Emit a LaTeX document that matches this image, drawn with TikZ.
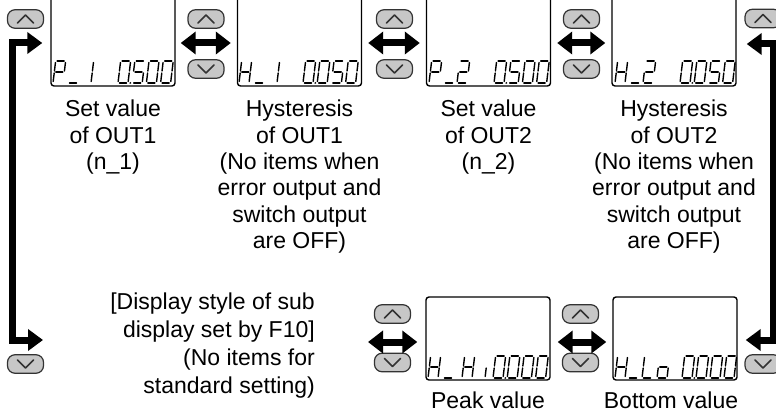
\documentclass[tikz,border=0pt]{standalone}
\usepackage{fontspec}
\setmainfont{Liberation Sans}
\usetikzlibrary{arrows.meta,calc}

\tikzset{
 lcdbox/.style={draw=black, line width=1.4pt, rounded corners=3pt, minimum width=124pt, inner sep=0pt},
 keybtn/.style={draw=black!80, fill=black!22, line width=1.2pt, rounded corners=7.5pt, minimum width=36pt, minimum height=18.5pt, inner sep=0pt},
 chev/.style={draw=black!80, line width=1.5pt, line cap=round, line join=round},
 bigarrow/.style={line width=7pt, {Triangle[length=15pt,width=22pt]}-{Triangle[length=15pt,width=22pt]}},
 bracket/.style={line width=7pt, line join=miter, {Triangle[length=15pt,width=21pt]}-{Triangle[length=15pt,width=21pt]}},
 lbl/.style={font=\fontsize{23}{26.3}\selectfont, align=center, inner sep=0pt, anchor=north},
 lcd/.style={line width=1.4pt, line cap=round},
}

\newcommand\lcdsega{\draw[lcd] (1.5,-22)--(8.5,-22);}
\newcommand\lcdsegb{\draw[lcd] (10,-20.5)--(10,-12);}
\newcommand\lcdsegc{\draw[lcd] (10,-10)--(10,-1.5);}
\newcommand\lcdsegd{\draw[lcd] (1.5,0)--(8.5,0);}
\newcommand\lcdsege{\draw[lcd] (0,-10)--(0,-1.5);}
\newcommand\lcdsegf{\draw[lcd] (0,-20.5)--(0,-12);}
\newcommand\lcdsegg{\draw[lcd] (1.5,-11)--(8.5,-11);}
\newcommand\lcdsegp{\fill (12.3,0) circle (1.0);}
\newcommand\lcdchar[3]{\begin{scope}[shift={(#1,#2)},xslant=0.12]\foreach \s in {#3}{\csname lcdseg\s\endcsname}\end{scope}}
\newcommand\upchev[1]{\draw[chev] ($(#1)+(-8,4)$) -- ($(#1)+(0,-4)$) -- ($(#1)+(8,4)$);}
\newcommand\dnchev[1]{\draw[chev] ($(#1)+(-8,-4)$) -- ($(#1)+(0,4)$) -- ($(#1)+(8,-4)$);}

\begin{document}
\begin{tikzpicture}[x=1pt,y=-1pt]
\useasboundingbox (0,0) rectangle (776,417);
\fill[white] (0,0) rectangle (776,417);
\clip (0,0) rectangle (776,417);

% display boxes
\node[lcdbox, minimum height=92pt] (d1) at (113,40) {};
\node[lcdbox, minimum height=92pt] (d2) at (299.5,40) {};
\node[lcdbox, minimum height=92pt] (d3) at (488.5,40) {};
\node[lcdbox, minimum height=92pt] (d4) at (674,40) {};
\node[lcdbox, minimum height=83pt] (d5) at (488,338.5) {};
\node[lcdbox, minimum height=83pt] (d6) at (675,338.5) {};

% LCD characters: P_1 0.500
\lcdchar{53}{83}{a,b,e,f,g}
\lcdchar{68}{83}{d}
\lcdchar{81}{83}{b,c}
\lcdchar{118}{83}{a,b,c,d,e,f,p}
\lcdchar{132.2}{83}{a,f,g,c,d}
\lcdchar{146.4}{83}{a,b,c,d,e,f}
\lcdchar{160.6}{83}{a,b,c,d,e,f}
% H_1 0.050
\lcdchar{239}{83}{b,c,e,f,g}
\lcdchar{254}{83}{d}
\lcdchar{267}{83}{b,c}
\lcdchar{303}{83}{a,b,c,d,e,f,p}
\lcdchar{317.2}{83}{a,b,c,d,e,f}
\lcdchar{331.4}{83}{a,f,g,c,d}
\lcdchar{345.6}{83}{a,b,c,d,e,f}
% P_2 0.500
\lcdchar{429}{83}{a,b,e,f,g}
\lcdchar{444}{83}{d}
\lcdchar{457}{83}{a,b,g,e,d}
\lcdchar{494}{83}{a,b,c,d,e,f,p}
\lcdchar{508.2}{83}{a,f,g,c,d}
\lcdchar{522.4}{83}{a,b,c,d,e,f}
\lcdchar{536.6}{83}{a,b,c,d,e,f}
% H_2 0.050
\lcdchar{615}{83}{b,c,e,f,g}
\lcdchar{630}{83}{d}
\lcdchar{643}{83}{a,b,g,e,d}
\lcdchar{680}{83}{a,b,c,d,e,f,p}
\lcdchar{694.2}{83}{a,b,c,d,e,f}
\lcdchar{708.4}{83}{a,f,g,c,d}
\lcdchar{722.6}{83}{a,b,c,d,e,f}
% H_Hi 0.000
\lcdchar{428}{378}{b,c,e,f,g}
\lcdchar{443}{378}{d}
\lcdchar{462}{378}{b,c,e,f,g}
\lcdchar{475}{378}{c}
\lcdchar{493}{378}{a,b,c,d,e,f,p}
\lcdchar{507.2}{378}{a,b,c,d,e,f}
\lcdchar{521.4}{378}{a,b,c,d,e,f}
\lcdchar{535.6}{378}{a,b,c,d,e,f}
% H_Lo 0.000
\lcdchar{615}{378}{b,c,e,f,g}
\lcdchar{628}{378}{d}
\lcdchar{642}{378}{f,e,d}
\lcdchar{657}{378}{c,d,e,g}
\lcdchar{682}{378}{a,b,c,d,e,f,p}
\lcdchar{696}{378}{a,b,c,d,e,f}
\lcdchar{710}{378}{a,b,c,d,e,f}
\lcdchar{724}{378}{a,b,c,d,e,f}

% keys
\node[keybtn] (u0) at (25.5,19) {};
\node[keybtn] (u1) at (206,19) {};
\node[keybtn] (n1) at (206,69) {};
\node[keybtn] (u2) at (394.5,19) {};
\node[keybtn] (n2) at (394.5,69) {};
\node[keybtn] (u3) at (581.5,19) {};
\node[keybtn] (n3) at (581.5,69) {};
\node[keybtn] (u4) at (763,18.5) {};
\node[keybtn] (n0) at (25.5,364) {};
\node[keybtn] (u5) at (392.5,314) {};
\node[keybtn] (n5) at (392.5,362.5) {};
\node[keybtn] (u6) at (580.5,314) {};
\node[keybtn] (n6) at (580.5,362.5) {};
\node[keybtn] (n7) at (763,364) {};
\upchev{u0}\upchev{u1}\upchev{u2}\upchev{u3}\upchev{u4}\upchev{u5}\upchev{u6}
\dnchev{n0}\dnchev{n1}\dnchev{n2}\dnchev{n3}\dnchev{n5}\dnchev{n6}\dnchev{n7}

% arrows
\draw[bigarrow] ([xshift=5pt,yshift=-3pt]d1.east) -- ([xshift=-6pt,yshift=-3pt]d2.west);
\draw[bigarrow] ([xshift=6pt,yshift=-3pt]d2.east) -- ([xshift=-6pt,yshift=-3pt]d3.west);
\draw[bigarrow] ([xshift=6pt,yshift=-3pt]d3.east) -- ([xshift=-6pt,yshift=-3pt]d4.west);
\coordinate (la) at (368,342);
\draw[bigarrow] (la) -- ([xshift=-8pt,yshift=-3.5pt]d5.west);
\draw[bigarrow] ([xshift=7pt,yshift=-3.5pt]d5.east) -- ([xshift=-6pt,yshift=-3.5pt]d6.west);
\coordinate (lb) at (43,340);
\draw[bracket] ([xshift=-8pt,yshift=-3pt]d1.west) -- ++(-30,0) |- (lb);
\draw[bracket] ([xshift=10pt,yshift=-4pt]d4.east) -- ++(26.5,0) |- ([xshift=8pt,yshift=-1.5pt]d6.east);

% labels
\node[lbl] (t1) at (113,100) {Set value\\of OUT1\\(n\_1)};
\node[lbl] (t2) at (299.5,100) {Hysteresis\\of OUT1\\(No items when\\error output and\\switch output\\are OFF)};
\node[lbl] (t3) at (488.5,100) {Set value\\of OUT2\\(n\_2)};
\node[lbl] (t4) at (674,100) {Hysteresis\\of OUT2\\(No items when\\error output and\\switch output\\are OFF)};
\node[lbl, align=right, anchor=north east, font=\fontsize{23}{28}\selectfont] (t5) at (315,293) {[Display style of sub\\display set by F10]\\(No items for\\standard setting)};
\node[lbl] (t6) at (488,392) {Peak value};
\node[lbl] (t7) at (671,392) {Bottom value};
\end{tikzpicture}
\end{document}
